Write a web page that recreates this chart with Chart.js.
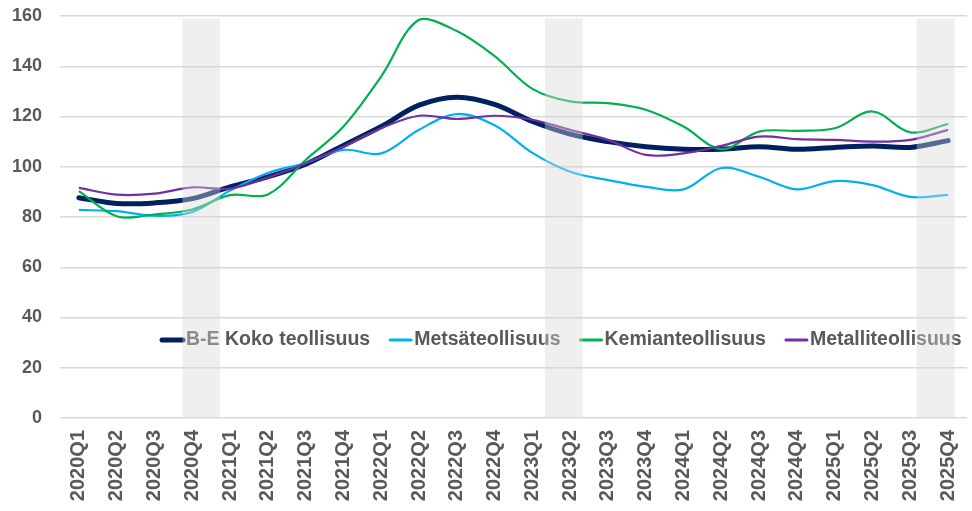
<!DOCTYPE html>
<html>
<head>
<meta charset="utf-8">
<script src="https://cdn.jsdelivr.net/npm/chart.js@4.4.1/dist/chart.umd.min.js"></script>
<style>
  body { margin: 0; background: #ffffff; }
  #wrap { width: 972px; height: 511px; }
</style>
</head>
<body>
<div id="wrap"><canvas id="line-chart"></canvas></div>
<script>
//quarters on the x axis
const quarters = ['2020Q1', '2020Q2', '2020Q3', '2020Q4', '2021Q1', '2021Q2', '2021Q3', '2021Q4',
    '2022Q1', '2022Q2', '2022Q3', '2022Q4', '2023Q1', '2023Q2', '2023Q3', '2023Q4',
    '2024Q1', '2024Q2', '2024Q3', '2024Q4', '2025Q1', '2025Q2', '2025Q3', '2025Q4'];

//index values
const kokoTeollisuus = [87.7, 85.4, 85.6, 87.3, 92, 96, 101, 108.5, 116, 124.5, 127.7, 124.8,
    118, 113, 110, 108, 107, 107, 108, 107, 107.7, 108.3, 107.7, 110.4];
const metsaTeollisuus = [82.8, 82.3, 80.5, 82, 90.5, 97.5, 101.5, 106.7, 105.3, 114.7, 121, 116.5,
    105.5, 98, 94.7, 92, 91, 99.5, 96, 91, 94.3, 92.7, 88, 88.8];
const kemianTeollisuus = [90.3, 80.3, 81, 83, 88.7, 89, 102.7, 116, 136, 158.5, 154, 144,
    131, 126, 125.3, 122.7, 116, 107, 114, 114.3, 115.3, 122, 113.7, 117];
const metalliTeollisuus = [91.6, 88.9, 89.3, 91.8, 91.3, 95.7, 101.3, 108, 115.3, 120.3, 119, 120.3,
    118.7, 114.7, 110.7, 104.7, 105.3, 108.3, 112, 111, 110.7, 110, 110.7, 114.7];

//y axis
const yTicks = [0, 20, 40, 60, 80, 100, 120, 140, 160];

//grey shaded periods, start in category units (one quarter wide)
const shadeStart = [2.74, 12.33, 22.17];
const shadeTop = 159;

const grey = '#595959';

//draws the legend inside the plot and then the grey bands over everything
const overlayPlugin = {
    id: 'overlay',
    afterDatasetsDraw(chart) {
        const ctx = chart.ctx;
        const x = chart.scales.x;
        const y = chart.scales.y;

        //legend row
        ctx.save();
        ctx.font = 'bold 19.5px "Liberation Sans", Arial, sans-serif';
        ctx.textBaseline = 'middle';
        let lx = 160;
        const ly = 340;
        chart.data.datasets.forEach(ds => {
            ctx.strokeStyle = ds.borderColor;
            ctx.lineWidth = ds.borderWidth > 3 ? 5 : 3;
            ctx.lineCap = 'round';
            ctx.beginPath();
            ctx.moveTo(lx + 2, ly);
            ctx.lineTo(lx + 23, ly);
            ctx.stroke();
            ctx.fillStyle = grey;
            ctx.fillText(ds.label, lx + 26, ly);
            lx += 26 + ctx.measureText(ds.label).width + 18;
        });
        ctx.restore();

        //bands
        ctx.save();
        ctx.fillStyle = 'rgba(215, 215, 215, 0.4)';
        shadeStart.forEach(s => {
            const left = x.getPixelForValue(s);
            const right = x.getPixelForValue(s + 1);
            const top = y.getPixelForValue(shadeTop);
            const bottom = y.getPixelForValue(0);
            ctx.fillRect(left, top, right - left, bottom - top);
        });
        ctx.restore();
    }
};

const canvas = document.querySelector('#line-chart');
new Chart(canvas.getContext('2d'), {
    type: 'line',
    data: {
        labels: quarters,
        datasets: [
            { label: 'B-E Koko teollisuus', data: kokoTeollisuus, borderColor: '#002060', borderWidth: 5, order: 4, borderCapStyle: 'round' },
            { label: 'Metsäteollisuus', data: metsaTeollisuus, borderColor: '#00B0F0', borderWidth: 2.2, order: 3 },
            { label: 'Kemianteollisuus', data: kemianTeollisuus, borderColor: '#00B050', borderWidth: 2.2, order: 2 },
            { label: 'Metalliteollisuus', data: metalliTeollisuus, borderColor: '#7030A0', borderWidth: 2.2, order: 1 }
        ]
    },
    options: {
        responsive: true,
        maintainAspectRatio: false,
        animation: false,
        events: [],
        layout: { padding: { top: 16, right: 5, left: 0, bottom: 0 } },
        elements: {
            point: { radius: 0 },
            line: { tension: 0.35, fill: false }
        },
        plugins: {
            legend: { display: false },
            tooltip: { enabled: false }
        },
        scales: {
            x: {
                offset: true,
                grid: { display: false, drawTicks: false },
                border: { display: false },
                ticks: {
                    minRotation: 90,
                    maxRotation: 90,
                    autoSkip: false,
                    padding: 12,
                    color: grey,
                    font: { family: '"Liberation Sans", Arial, sans-serif', size: 20, weight: 'bold' }
                },
                afterFit: scale => {
                    scale.height = 93;
                    //rotated labels ask for side padding, the reference has none
                    scale.paddingLeft = 0;
                    scale.paddingRight = 0;
                }
            },
            y: {
                min: yTicks[0],
                max: yTicks[yTicks.length - 1],
                afterBuildTicks: scale => { scale.ticks = yTicks.map(v => ({ value: v })); },
                grid: { color: '#d9d9d9', lineWidth: 1.5, drawTicks: false },
                border: { display: false },
                ticks: {
                    padding: 18,
                    color: grey,
                    font: { family: '"Liberation Sans", Arial, sans-serif', size: 18, weight: 'bold' }
                },
                afterFit: scale => {
                    scale.width = 60;
                    scale.paddingTop = 0;
                    scale.paddingBottom = 0;
                }
            }
        }
    },
    plugins: [overlayPlugin]
});
</script>
</body>
</html>
